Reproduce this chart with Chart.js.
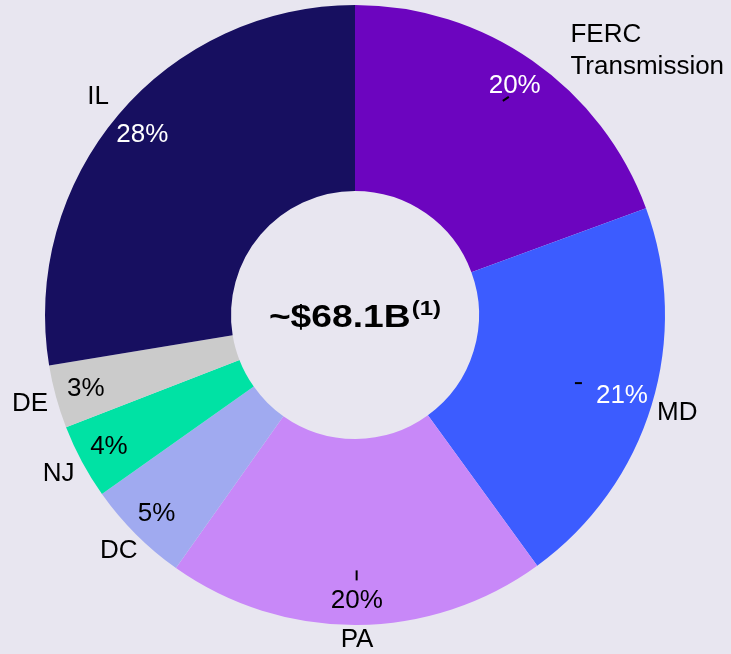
<!DOCTYPE html>
<html>
<head>
<meta charset="utf-8">
<script src="https://cdn.jsdelivr.net/npm/chart.js@4"></script>
<style>
  body { margin: 0; background: #e8e6f0; }
  #wrap { width: 731px; height: 654px; }
</style>
</head>
<body>
<div id="wrap"><canvas id="chart" width="731" height="654"></canvas></div>
<script>
// Segments clockwise from the top
const categories = ["FERC\nTransmission", "MD", "PA", "DC", "NJ", "DE", "IL"];
const shares = [19.4, 20.6, 19.8, 5.4, 3.9, 3.3, 27.6];
const shareLabels = ["20%", "21%", "20%", "5%", "4%", "3%", "28%"];
const sliceColors = ["#6c05bf", "#3c5cff", "#c888f8", "#a0aaf0", "#00e2a4", "#cbcbcb", "#170f60"];
const pctColors = ["#ffffff", "#ffffff", "#000000", "#000000", "#000000", "#000000", "#ffffff"];
const totalLabel = "~$68.1B";
const totalNote = "(1)";

const FONT = "'Liberation Sans', Arial, sans-serif";

// draws the percent labels, category labels, leader stubs and the center total
const labelPlugin = {
  id: "labels",
  afterDraw(chart) {
    const ctx = chart.ctx;
    const arcs = chart.getDatasetMeta(0).data;
    ctx.save();
    ctx.textAlign = "center";
    ctx.textBaseline = "middle";

    arcs.forEach((arc, i) => {
      const mid = (arc.startAngle + arc.endAngle) / 2;
      const cx = arc.x, cy = arc.y;
      const R = arc.outerRadius;
      const down = Math.pow(Math.max(0, Math.sin(mid)), 4);

      // percent inside the ring
      const pr = R * 0.9 + 7 * down;
      ctx.font = "26px " + FONT;
      ctx.fillStyle = pctColors[i];
      ctx.fillText(shareLabels[i], cx + pr * Math.cos(mid), cy + pr * Math.sin(mid));

      // category outside
      ctx.fillStyle = "#000000";
      const lines = categories[i].split("\n");
      if (lines.length > 1) {
        ctx.textAlign = "left";
        const lx = cx + R * 0.695, ly = cy - R * 0.905;
        lines.forEach((t, j) => ctx.fillText(t, lx, ly + j * 32));
        ctx.textAlign = "center";
      } else {
        const lr = R * 1.087 - 12 * down;
        ctx.fillText(lines[0], cx + lr * Math.cos(mid), cy + lr * Math.sin(mid));
      }
    });

    // small leader stubs left over from the source chart
    ctx.strokeStyle = "#000000";
    ctx.lineWidth = 2;
    const stub = (i, r, dx1, dy1, dx2, dy2) => {
      const a = arcs[i];
      const m = (a.startAngle + a.endAngle) / 2;
      const x = a.x + r * Math.cos(m), y = a.y + r * Math.sin(m);
      ctx.beginPath();
      ctx.moveTo(x + dx1, y + dy1);
      ctx.lineTo(x + dx2, y + dy2);
      ctx.stroke();
    };
    stub(0, arcs[0].outerRadius * 0.85, -3, 2, 3, -2);
    stub(1, arcs[1].outerRadius * 0.755, -4, 0, 3, 0);
    stub(2, arcs[2].outerRadius * 0.84, 0, -5, 0, 5);

    // center total, drawn slightly widened like the source
    const c = arcs[0];
    const sx = 1.2;
    ctx.fillStyle = "#000000";
    ctx.textBaseline = "alphabetic";
    ctx.textAlign = "left";
    ctx.font = "bold 31px " + FONT;
    const w1 = ctx.measureText(totalLabel).width;
    ctx.font = "bold 20px " + FONT;
    const w2 = ctx.measureText(totalNote).width;
    const total = (w1 + w2 + 1) * sx;
    ctx.translate(c.x - total / 2, c.y + 12);
    ctx.scale(sx, 1);
    ctx.font = "bold 31px " + FONT;
    ctx.fillText(totalLabel, 0, 0);
    ctx.font = "bold 20px " + FONT;
    ctx.fillText(totalNote, w1 + 1, -12);
    ctx.restore();
  }
};

new Chart(document.getElementById("chart").getContext("2d"), {
  type: "doughnut",
  data: {
    labels: categories,
    datasets: [
      {
        data: shares,
        backgroundColor: sliceColors,
        borderWidth: 0
      }
    ]
  },
  options: {
    responsive: false,
    animation: false,
    cutout: "40%",
    layout: { padding: { left: 45, right: 66, top: 5, bottom: 29 } },
    plugins: {
      legend: { display: false },
      tooltip: { enabled: false }
    }
  },
  plugins: [labelPlugin]
});
</script>
</body>
</html>
